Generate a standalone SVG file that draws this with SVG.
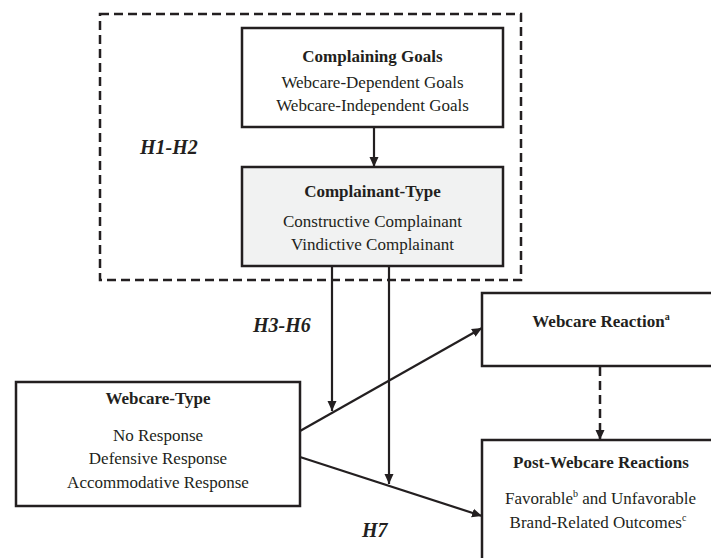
<svg xmlns="http://www.w3.org/2000/svg" width="711" height="558" viewBox="0 0 711 558">
<style>
.box{fill:#fff;stroke:#231f20;stroke-width:2.5}
.gray{fill:#f1f2f2}
.t{font-family:"Liberation Serif","Times New Roman",serif;font-size:17px;fill:#231f20;text-anchor:middle}
.b{font-weight:bold}
.h{font-family:"Liberation Serif","Times New Roman",serif;font-size:20px;font-weight:bold;font-style:italic;fill:#231f20}
.ln{stroke:#231f20;stroke-width:2.2;fill:none}
.dash{stroke:#231f20;stroke-width:2.5;fill:none;stroke-dasharray:9 5}
.sup{font-size:10px}
</style>
<defs>
<marker id="ah" viewBox="0 0 10 10" refX="10" refY="5" markerWidth="10" markerHeight="10" markerUnits="userSpaceOnUse" orient="auto">
<path d="M0,0.5 L10,5 L0,9.5 Z" fill="#231f20"/>
</marker>
</defs>
<g id="group-h1h2">
<rect x="100" y="14" width="421" height="266" class="dash"/>
<text x="140" y="154" class="h">H1-H2</text>
</g>
<g id="complaining-goals">
<rect x="242" y="28" width="261" height="99" class="box"/>
<text x="372.5" y="62" class="t b">Complaining Goals</text>
<text x="372.5" y="88" class="t">Webcare-Dependent Goals</text>
<text x="372.5" y="111" class="t">Webcare-Independent Goals</text>
</g>
<g id="complainant-type">
<rect x="242" y="167" width="261" height="99" class="box gray"/>
<text x="372.5" y="197" class="t b">Complainant-Type</text>
<text x="372.5" y="227" class="t">Constructive Complainant</text>
<text x="372.5" y="250" class="t">Vindictive Complainant</text>
</g>
<g id="webcare-type">
<rect x="16" y="382" width="284" height="124" class="box"/>
<text x="158" y="404" class="t b">Webcare-Type</text>
<text x="158" y="441" class="t">No Response</text>
<text x="158" y="464" class="t">Defensive Response</text>
<text x="158" y="488" class="t">Accommodative Response</text>
</g>
<g id="webcare-reaction">
<rect x="482" y="293" width="240" height="73" class="box"/>
<text x="601" y="327" class="t b">Webcare Reaction<tspan class="sup" dy="-7">a</tspan></text>
</g>
<g id="post-webcare-reactions">
<rect x="482" y="440" width="240" height="130" class="box"/>
<text x="601" y="468" class="t b">Post-Webcare Reactions</text>
<text x="600.5" y="504" class="t">Favorable<tspan class="sup" dy="-7">b</tspan><tspan dy="7"> and Unfavorable</tspan></text>
<text x="598" y="528" class="t">Brand-Related Outcomes<tspan class="sup" dy="-7">c</tspan></text>
</g>
<g id="labels">
<text x="253" y="332" class="h">H3-H6</text>
<text x="362" y="537" class="h">H7</text>
</g>
<g id="connectors">
<line x1="374" y1="127" x2="374" y2="167" class="ln" marker-end="url(#ah)"/>
<line x1="332" y1="266" x2="332" y2="411" class="ln" marker-end="url(#ah)"/>
<line x1="389" y1="266" x2="389" y2="484" class="ln" marker-end="url(#ah)"/>
<line x1="300" y1="431" x2="482" y2="328" class="ln" marker-end="url(#ah)"/>
<line x1="300" y1="457" x2="482" y2="516" class="ln" marker-end="url(#ah)"/>
<line x1="600" y1="367" x2="600" y2="440" class="dash" stroke-dasharray="9 5" marker-end="url(#ah)"/>
</g>
</svg>
